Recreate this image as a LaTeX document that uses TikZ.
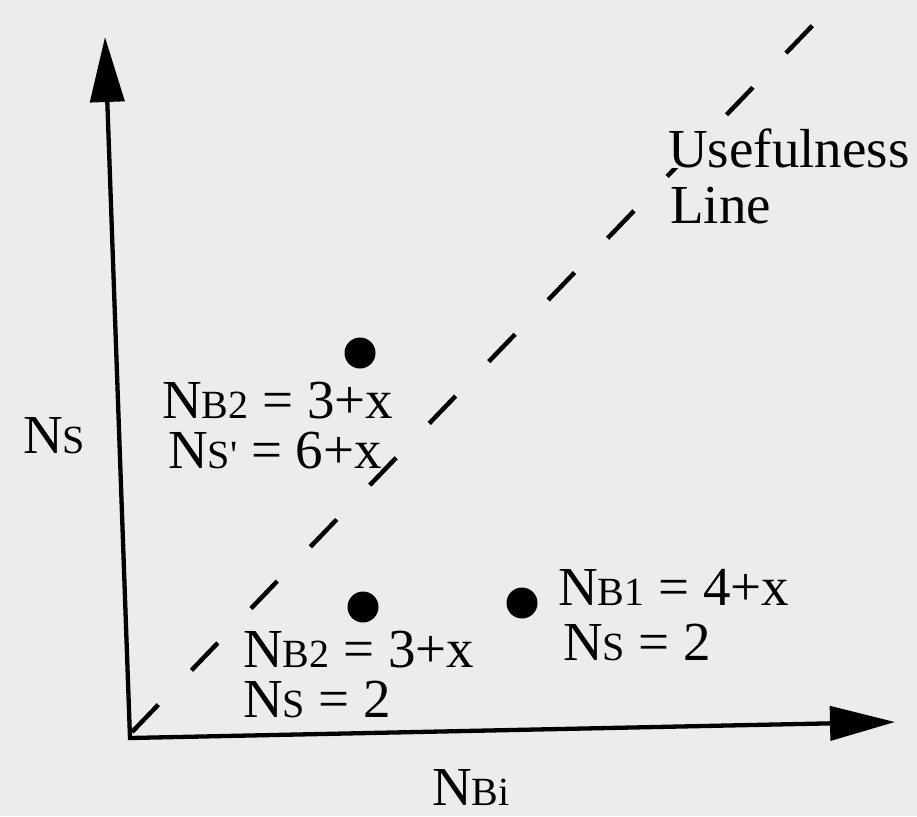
\documentclass[tikz,border=0pt]{standalone}
\usepackage{fontspec}
\setmainfont{Liberation Serif}[Ligatures=TeXOff]
\usetikzlibrary{arrows.meta}
\definecolor{bg}{RGB}{236,236,239}
\newcommand{\sm}[1]{{\fontsize{40}{40}\selectfont #1}}
\begin{document}
\begin{tikzpicture}[x=1pt,y=-1pt,
  lbl/.style={anchor=base west, inner sep=0pt, font=\fontsize{55}{60}\selectfont},
  axisline/.style={line width=4.3pt, line join=miter,
    {Triangle[length=65pt,width=34pt]}-{Triangle[length=65pt,width=34pt]}},
  useline/.style={line width=4.5pt, dash pattern=on 38pt off 47.7pt},
  dot/.style={circle, fill=black, inner sep=0pt, minimum size=31pt}]
\fill[bg] (0,0) rectangle (917,816);
\useasboundingbox (0,0) rectangle (917,816);
% axes
\coordinate (O) at (130,738);
\coordinate (Ytip) at (105,37);
\coordinate (Xtip) at (895,722);
\draw[axisline] (Ytip) -- (O) -- (Xtip);
% usefulness line
\coordinate (U0) at (132,732);
\coordinate (U1) at (813,25);
\draw[useline] (U0) -- (U1);
% points
\node[dot] (p1) at (360,353) {};
\node[dot] (p2) at (363,607) {};
\node[dot] (p3) at (522,603) {};
% labels
\node[lbl] (t1a) at (162,418) {N\sm{B2} = 3+x};
\node[lbl] (t1b) at (168,468) {N\sm{S'} = 6+x};
\node[lbl] (t2a) at (243,667) {N\sm{B2} = 3+x};
\node[lbl] (t2b) at (243,717) {N\sm{S} = 2};
\node[lbl] (t3a) at (558,605) {N\sm{B1} = 4+x};
\node[lbl] (t3b) at (563,660) {N\sm{S} = 2};
\node[lbl, fill=bg] (use) at (668,167) {Usefulness};
\node[lbl] (lin) at (670,223) {Line};
\node[lbl] (ylab) at (23,453) {N\sm{S}};
\node[lbl] (xlab) at (432,805) {N\sm{Bi}};
\end{tikzpicture}
\end{document}
